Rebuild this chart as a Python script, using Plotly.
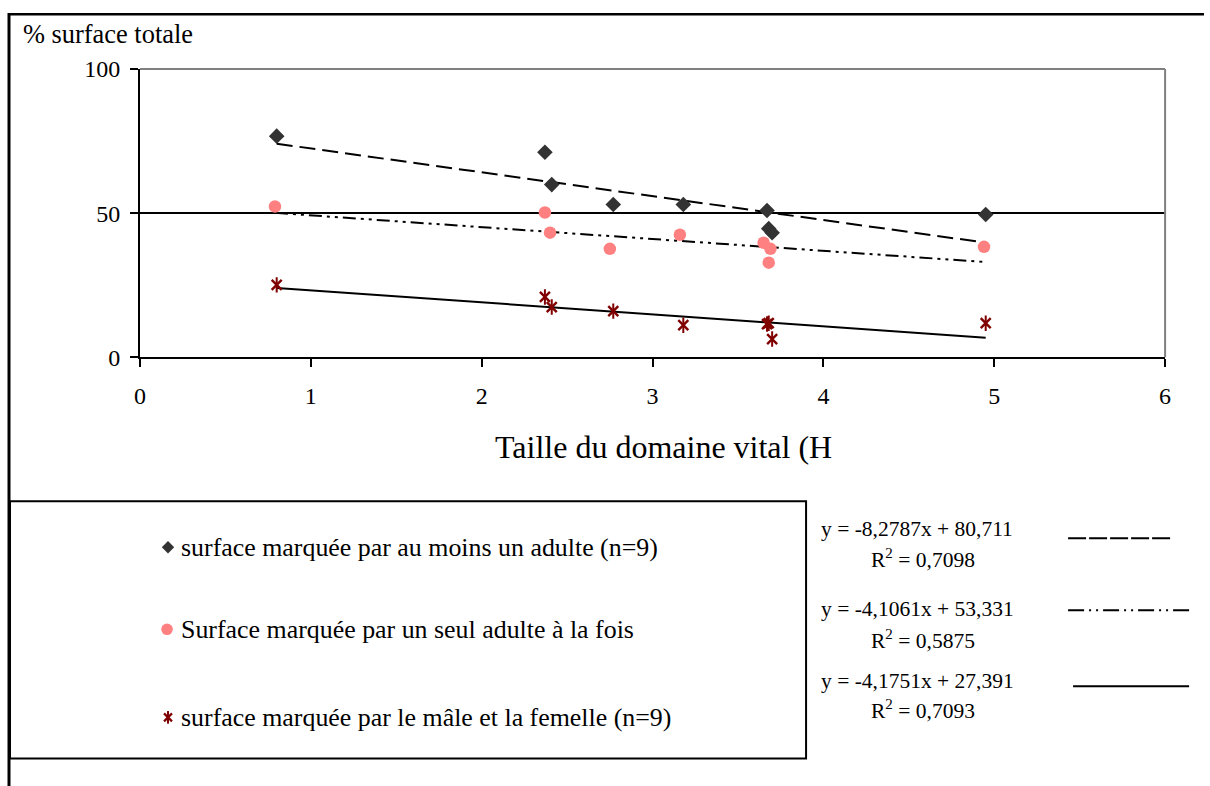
import plotly.graph_objects as go

# Taille du domaine vital (ha) for each of the nine territories
taille = [0.80, 2.37, 2.41, 2.77, 3.18, 3.67, 3.68, 3.70, 4.95]
taille_seul = [0.79, 2.37, 2.40, 2.75, 3.16, 3.65, 3.68, 3.69, 4.94]

# % of total surface
au_moins_un = [76.7, 71.1, 59.9, 53.0, 53.0, 50.9, 44.6, 43.2, 49.5]
seul_adulte = [52.3, 50.2, 43.2, 37.6, 42.5, 39.7, 32.8, 37.6, 38.3]
male_femelle = [25.1, 20.9, 17.4, 16.0, 11.1, 11.5, 11.8, 6.3, 11.8]

# Linear trend coefficients (slope, intercept, R²)
trend_au_moins_un = (-8.2787, 80.711, 0.7098)
trend_seul = (-4.1061, 53.331, 0.5875)
trend_male_femelle = (-4.1751, 27.391, 0.7093)

series_names = [
    "surface marquée par au moins un adulte (n=9)",
    "Surface marquée par un seul adulte à la fois",
    "surface marquée par le mâle et la femelle (n=9)",
]

W, H = 1210, 800
# screen placement of the figure: screen = S * figure + T
SX, SY = 0.99, 0.967
TX, TY = 5.0, 12.0

FONT = "Liberation Serif"
C_DIAM = "#333333"
C_PINK = "#FF8080"
C_STAR = "#800000"

DASH_LONG = "16px,7px"
DASH_DDOT = "13px,5px,3px,5px,3px,5px"
KEY_LONG = "18px,3px"
KEY_DDOT = "16px,5px,2px,5px,2px,5px"


def fig_x(sx):
    return (sx - TX) / SX


def fig_y(sy):
    return (sy - TY) / SY


def px(sx):
    """screen x pixel -> paper fraction"""
    return fig_x(sx) / W


def py(sy):
    """screen y pixel (from top) -> paper fraction"""
    return 1 - fig_y(sy) / H


def fmt(v, nd):
    return f"{v:.{nd}f}".replace(".", ",")


def trend_xy(xs, coef):
    a, b, _ = coef
    x0, x1 = min(xs), max(xs)
    return [x0, x1], [a * x0 + b, a * x1 + b]


fig = go.Figure()

# trend lines
for xs, coef, dash in [
    (taille, trend_au_moins_un, DASH_LONG),
    (taille_seul, trend_seul, DASH_DDOT),
    (taille, trend_male_femelle, "solid"),
]:
    tx, ty = trend_xy(xs, coef)
    fig.add_trace(go.Scatter(x=tx, y=ty, mode="lines",
                             line=dict(color="black", width=2, dash=dash),
                             showlegend=False, hoverinfo="skip"))

# data points
fig.add_trace(go.Scatter(x=taille, y=au_moins_un, mode="markers", name=series_names[0],
                         marker=dict(symbol="diamond", size=12, color=C_DIAM),
                         showlegend=False))
fig.add_trace(go.Scatter(x=taille_seul, y=seul_adulte, mode="markers", name=series_names[1],
                         marker=dict(symbol="circle", size=12.5, color=C_PINK),
                         showlegend=False))
# star = cross + vertical bar
fig.add_trace(go.Scatter(x=taille, y=male_femelle, mode="markers", name=series_names[2],
                         marker=dict(symbol="x-thin-open", size=10, color=C_STAR,
                                     line=dict(color=C_STAR, width=2.4)),
                         showlegend=False))
fig.add_trace(go.Scatter(x=taille, y=male_femelle, mode="markers",
                         marker=dict(symbol="line-ns-open", size=11, color=C_STAR,
                                     line=dict(color=C_STAR, width=2)),
                         showlegend=False, hoverinfo="skip"))

# legend keys on a full-page overlay axis (figure pixel units)
key_x = fig_x(167)
key_y = [546, 628, 716]
fig.add_trace(go.Scatter(x=[key_x], y=[fig_y(key_y[0])], xaxis="x2", yaxis="y2",
                         mode="markers",
                         marker=dict(symbol="diamond", size=9.5, color=C_DIAM),
                         showlegend=False, hoverinfo="skip"))
fig.add_trace(go.Scatter(x=[key_x - 1], y=[fig_y(key_y[1])], xaxis="x2", yaxis="y2",
                         mode="markers",
                         marker=dict(symbol="circle", size=11.5, color=C_PINK),
                         showlegend=False, hoverinfo="skip"))
fig.add_trace(go.Scatter(x=[key_x], y=[fig_y(key_y[2])], xaxis="x2", yaxis="y2",
                         mode="markers",
                         marker=dict(symbol="x-thin-open", size=8, color=C_STAR,
                                     line=dict(color=C_STAR, width=2.2)),
                         showlegend=False, hoverinfo="skip"))
fig.add_trace(go.Scatter(x=[key_x], y=[fig_y(key_y[2])], xaxis="x2", yaxis="y2",
                         mode="markers",
                         marker=dict(symbol="line-ns-open", size=9, color=C_STAR,
                                     line=dict(color=C_STAR, width=2)),
                         showlegend=False, hoverinfo="skip"))

annotations = []
for name, yy in zip(series_names, key_y):
    annotations.append(dict(x=px(178), y=py(yy), xref="paper", yref="paper",
                            text=name, showarrow=False, xanchor="left", yanchor="middle",
                            font=dict(family=FONT, size=25.9, color="black")))

# trend equations
eq_rows = [(trend_au_moins_un, 528, 557), (trend_seul, 608, 638), (trend_male_femelle, 680, 708)]
for (a, b, r2), ye, yr in eq_rows:
    annotations.append(dict(x=px(916), y=py(ye), xref="paper", yref="paper",
                            text=f"y = {fmt(a, 4)}x + {fmt(b, 3)}", showarrow=False,
                            xanchor="center", yanchor="middle",
                            font=dict(family=FONT, size=21.5, color="black")))
    annotations.append(dict(x=px(922), y=py(yr), xref="paper", yref="paper",
                            text=f"R<sup>2</sup> = {fmt(r2, 4)}", showarrow=False,
                            xanchor="center", yanchor="middle",
                            font=dict(family=FONT, size=21.5, color="black")))

# axis titles
annotations.append(dict(x=px(20), y=py(33), xref="paper", yref="paper",
                        text="% surface totale", showarrow=False,
                        xanchor="left", yanchor="middle",
                        font=dict(family=FONT, size=26.4, color="black")))
annotations.append(dict(x=px(662), y=py(446), xref="paper", yref="paper",
                        text="Taille du domaine vital (H", showarrow=False,
                        xanchor="center", yanchor="middle",
                        font=dict(family=FONT, size=32, color="black")))

shapes = [
    # outer frame (left and top edges)
    dict(type="line", xref="paper", yref="paper", x0=px(8), x1=px(8), y0=0, y1=1,
         line=dict(color="black", width=3)),
    dict(type="line", xref="paper", yref="paper", x0=px(7), x1=1, y0=1 - 1.2 / H,
         y1=1 - 1.2 / H, line=dict(color="black", width=2.5)),
    # legend box
    dict(type="rect", xref="paper", yref="paper", x0=px(9), x1=px(805),
         y0=py(757), y1=py(500), line=dict(color="black", width=2)),
    # plot area top/right border
    dict(type="line", xref="x domain", yref="y domain", x0=0, x1=1, y0=1, y1=1,
         line=dict(color="#808080", width=2)),
    dict(type="line", xref="x domain", yref="y domain", x0=1, x1=1, y0=0, y1=1,
         line=dict(color="#808080", width=2)),
    # trend line keys
    dict(type="line", xref="paper", yref="paper", x0=px(1067), x1=px(1171),
         y0=py(537), y1=py(537), line=dict(color="black", width=2, dash=KEY_LONG)),
    dict(type="line", xref="paper", yref="paper", x0=px(1067), x1=px(1190),
         y0=py(609), y1=py(609), line=dict(color="black", width=2, dash=KEY_DDOT)),
    dict(type="line", xref="paper", yref="paper", x0=px(1072), x1=px(1188),
         y0=py(685), y1=py(685), line=dict(color="black", width=2)),
]

fig.update_layout(
    width=W, height=H,
    margin=dict(l=0, r=0, t=0, b=0),
    paper_bgcolor="white", plot_bgcolor="rgba(0,0,0,0)",
    showlegend=False,
    font=dict(family=FONT, color="black"),
    xaxis=dict(domain=[px(139), px(1164)], range=[0, 6], tickvals=[0, 1, 2, 3, 4, 5, 6],
               showgrid=False, zeroline=False, showline=True, linecolor="black", linewidth=2,
               ticks="outside", ticklen=8, tickwidth=1.5, tickcolor="black",
               ticklabelstandoff=8, tickfont=dict(family=FONT, size=24)),
    yaxis=dict(domain=[py(356), py(68)], range=[0, 100], tickvals=[0, 50, 100],
               showgrid=True, gridcolor="black", gridwidth=1.5, zeroline=False,
               showline=True, linecolor="black", linewidth=2,
               ticks="outside", ticklen=8, tickwidth=1.5, tickcolor="black",
               ticklabelstandoff=5, tickfont=dict(family=FONT, size=24)),
    xaxis2=dict(domain=[0, 1], range=[0, W], visible=False, fixedrange=True),
    yaxis2=dict(domain=[0, 1], range=[H, 0], visible=False, fixedrange=True, anchor="x2"),
    annotations=annotations,
    shapes=shapes,
)

fig.write_html("out.html")
